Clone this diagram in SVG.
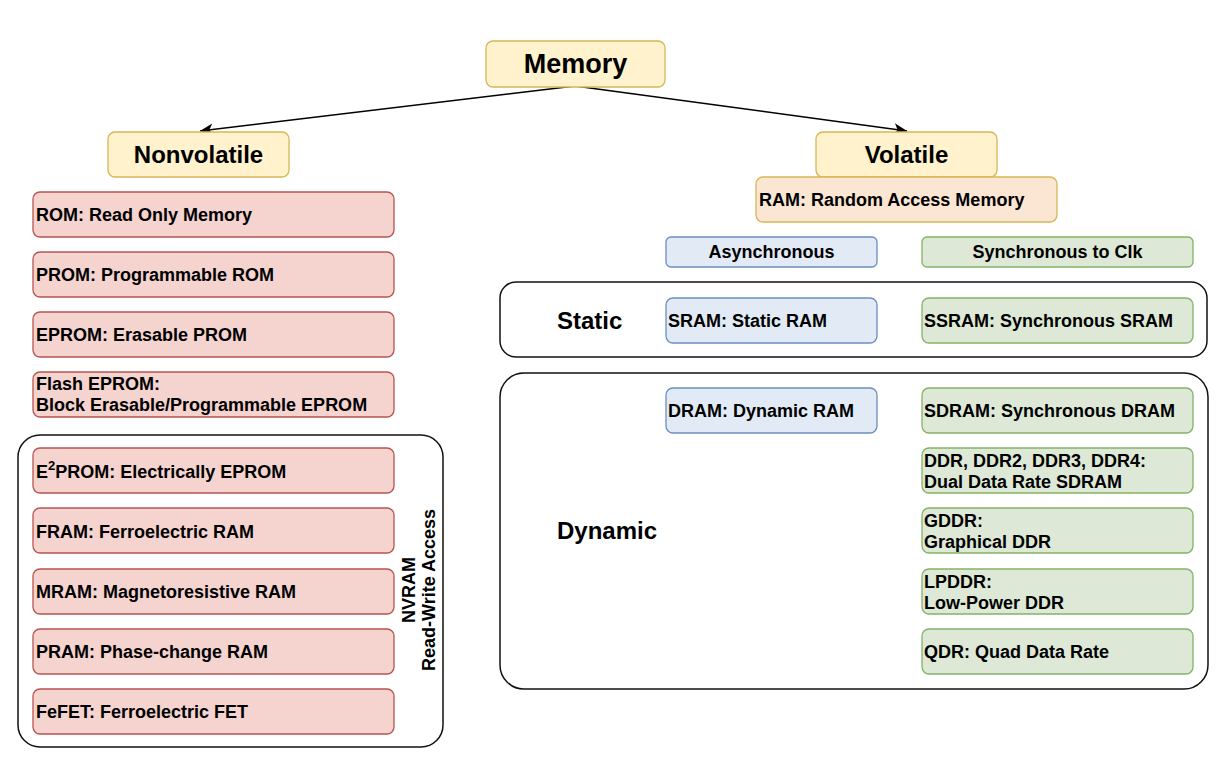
<svg xmlns="http://www.w3.org/2000/svg" width="1228" height="766" viewBox="0 0 1228 766">
<style>
text{font-family:"Liberation Sans",Arial,sans-serif;font-weight:bold;fill:#000}
.t{font-size:18px}
.h{font-size:24px}
.c{text-anchor:middle}
.y{fill:#fff2cc;stroke:#d6b656;stroke-width:1.3}
.o{fill:#fbe6d4;stroke:#d6b656;stroke-width:1.3}
.r{fill:#f5d3cf;stroke:#b85450;stroke-width:1.3}
.b{fill:#e2ebf5;stroke:#6c8ebf;stroke-width:1.3}
.g{fill:#dde9d6;stroke:#82b366;stroke-width:1.3}
.k{fill:none;stroke:#111;stroke-width:1.5}
.e{fill:none;stroke:#000;stroke-width:1.5}
</style>
<defs>
<marker id="arr" markerUnits="userSpaceOnUse" markerWidth="16" markerHeight="14" refX="13" refY="6" orient="auto">
<path d="M0,0 L13,6 L0,12 L3.5,6 Z" fill="#000"/>
</marker>
</defs>
<rect width="1228" height="766" fill="#fff"/>

<g id="containers">
<rect id="nvram" class="k" x="18" y="435" width="425" height="312" rx="22"/>
<rect id="static" class="k" x="500" y="282" width="707" height="75" rx="16"/>
<rect id="dynamic" class="k" x="500" y="373" width="708" height="316" rx="24"/>
</g>

<g id="connectors">
<path class="e" d="M575,86 L200,131" marker-end="url(#arr)"/>
<path class="e" d="M575,86 L907,131" marker-end="url(#arr)"/>
</g>

<g id="memory"><rect class="y" x="486" y="41" width="179" height="46" rx="7"/><text class="c" x="575.5" y="73" font-size="27">Memory</text></g>
<g id="nonvolatile"><rect class="y" x="108" y="132" width="181" height="45" rx="7"/><text class="h c" x="198.5" y="163">Nonvolatile</text></g>
<g id="volatile"><rect class="y" x="816" y="132" width="181" height="45" rx="7"/><text class="h c" x="906.5" y="163">Volatile</text></g>
<g id="ram"><rect class="o" x="756" y="177" width="301" height="45" rx="7"/><text class="t" x="759" y="206">RAM: Random Access Memory</text></g>

<g id="async"><rect class="b" x="666" y="237" width="211" height="30" rx="5"/><text class="t c" x="771.5" y="258">Asynchronous</text></g>
<g id="sync"><rect class="g" x="922" y="237" width="271" height="30" rx="5"/><text class="t c" x="1057.5" y="258">Synchronous to Clk</text></g>

<g id="static-label"><text class="h" x="557" y="329">Static</text></g>
<g id="sram"><rect class="b" x="666" y="298" width="211" height="45" rx="7"/><text class="t" x="668" y="327">SRAM: Static RAM</text></g>
<g id="ssram"><rect class="g" x="922" y="298" width="271" height="45" rx="7"/><text class="t" x="924" y="327">SSRAM: Synchronous SRAM</text></g>

<g id="dynamic-label"><text class="h" x="557" y="539">Dynamic</text></g>
<g id="dram"><rect class="b" x="666" y="388" width="211" height="45" rx="7"/><text class="t" x="668" y="417">DRAM: Dynamic RAM</text></g>
<g id="sdram"><rect class="g" x="922" y="388" width="271" height="45" rx="7"/><text class="t" x="924" y="417">SDRAM: Synchronous DRAM</text></g>
<g id="ddr"><rect class="g" x="922" y="448" width="271" height="45" rx="7"/><text class="t" x="924" y="467">DDR, DDR2, DDR3, DDR4:</text><text class="t" x="924" y="488">Dual Data Rate SDRAM</text></g>
<g id="gddr"><rect class="g" x="922" y="508" width="271" height="45" rx="7"/><text class="t" x="924" y="527">GDDR:</text><text class="t" x="924" y="548">Graphical DDR</text></g>
<g id="lpddr"><rect class="g" x="922" y="569" width="271" height="45" rx="7"/><text class="t" x="924" y="588">LPDDR:</text><text class="t" x="924" y="609">Low-Power DDR</text></g>
<g id="qdr"><rect class="g" x="922" y="629" width="271" height="45" rx="7"/><text class="t" x="924" y="658">QDR: Quad Data Rate</text></g>

<g id="rom"><rect class="r" x="33" y="192" width="361" height="45" rx="7"/><text class="t" x="36" y="221">ROM: Read Only Memory</text></g>
<g id="prom"><rect class="r" x="33" y="252" width="361" height="45" rx="7"/><text class="t" x="36" y="281">PROM: Programmable ROM</text></g>
<g id="eprom"><rect class="r" x="33" y="312" width="361" height="45" rx="7"/><text class="t" x="36" y="341">EPROM: Erasable PROM</text></g>
<g id="flash"><rect class="r" x="33" y="372" width="361" height="45" rx="7"/><text class="t" x="36" y="390">Flash EPROM:</text><text class="t" x="36" y="411">Block Erasable/Programmable EPROM</text></g>

<g id="e2prom"><rect class="r" x="33" y="448" width="361" height="45" rx="7"/><text class="t" x="36" y="478">E<tspan font-size="13" dy="-8">2</tspan><tspan dy="8">PROM: Electrically EPROM</tspan></text></g>
<g id="fram"><rect class="r" x="33" y="508" width="361" height="45" rx="7"/><text class="t" x="36" y="538">FRAM: Ferroelectric RAM</text></g>
<g id="mram"><rect class="r" x="33" y="569" width="361" height="45" rx="7"/><text class="t" x="36" y="598">MRAM: Magnetoresistive RAM</text></g>
<g id="pram"><rect class="r" x="33" y="629" width="361" height="45" rx="7"/><text class="t" x="36" y="658">PRAM: Phase-change RAM</text></g>
<g id="fefet"><rect class="r" x="33" y="689" width="361" height="45" rx="7"/><text class="t" x="36" y="718">FeFET: Ferroelectric FET</text></g>

<g id="nvram-label">
<text class="t c" transform="translate(415,590) rotate(-90)">NVRAM</text>
<text class="t c" transform="translate(435,590) rotate(-90)">Read-Write Access</text>
</g>
</svg>
